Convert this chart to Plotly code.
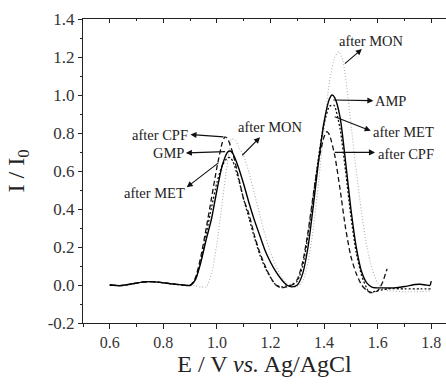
import plotly.graph_objects as go

# ---- data ----
gmp_x = [0.60, 0.64, 0.68, 0.72, 0.75, 0.78, 0.82, 0.86, 0.90, 0.92, 0.94, 0.96, 0.98, 1.00, 1.02, 1.04, 1.05,
         1.06, 1.08, 1.10, 1.12, 1.14, 1.16, 1.18, 1.20, 1.22, 1.24, 1.26, 1.28, 1.30, 1.32, 1.34, 1.36,
         1.38, 1.40, 1.42, 1.43, 1.44, 1.46, 1.48, 1.50, 1.52, 1.54, 1.56, 1.58, 1.62, 1.66, 1.70, 1.74,
         1.76, 1.78, 1.795, 1.80]
gmp_y = [0.000, -0.003, 0.005, 0.015, 0.018, 0.015, 0.008, 0.002, -0.002, 0.030, 0.120, 0.240, 0.350, 0.500,
         0.630, 0.700, 0.705, 0.690, 0.620, 0.530, 0.430, 0.340, 0.260, 0.180, 0.120, 0.070, 0.030, 0.000,
         -0.010, 0.000, 0.060, 0.200, 0.420, 0.660, 0.860, 0.980, 1.000, 0.985, 0.880, 0.650, 0.400, 0.200,
         0.070, 0.010, -0.012, -0.015, -0.015, -0.008, 0.003, 0.004, 0.000, -0.002, 0.020]

cpf_x = [0.60, 0.64, 0.68, 0.72, 0.75, 0.78, 0.82, 0.86, 0.90, 0.92, 0.94, 0.96, 0.98, 1.00, 1.02, 1.03,
         1.04, 1.06, 1.08, 1.10, 1.12, 1.14, 1.16, 1.18, 1.20, 1.22, 1.24, 1.26, 1.28, 1.30, 1.32, 1.34,
         1.36, 1.38, 1.40, 1.41, 1.42, 1.44, 1.46, 1.48, 1.50, 1.52, 1.54, 1.56, 1.58, 1.60, 1.61, 1.62, 1.635]
cpf_y = [0.000, -0.003, 0.005, 0.015, 0.018, 0.015, 0.008, 0.002, -0.002, 0.040, 0.150, 0.300, 0.460, 0.620,
         0.750, 0.780, 0.770, 0.690, 0.570, 0.450, 0.370, 0.260, 0.170, 0.100, 0.040, 0.000, -0.015, -0.010,
         0.000, 0.030, 0.120, 0.280, 0.480, 0.660, 0.780, 0.807, 0.790, 0.680, 0.500, 0.300, 0.150, 0.060,
         0.000, -0.030, -0.040, -0.030, -0.010, 0.020, 0.085]

met_x = [0.60, 0.64, 0.68, 0.72, 0.75, 0.78, 0.82, 0.86, 0.90, 0.92, 0.94, 0.96, 0.98, 1.00, 1.02, 1.04,
         1.05, 1.06, 1.08, 1.10, 1.12, 1.14, 1.16, 1.18, 1.20, 1.22, 1.24, 1.26, 1.28, 1.30, 1.32, 1.34,
         1.36, 1.38, 1.40, 1.42, 1.435, 1.44, 1.46, 1.48, 1.50, 1.52, 1.54, 1.56, 1.57, 1.60, 1.64, 1.70,
         1.76, 1.80]
met_y = [0.000, -0.003, 0.005, 0.015, 0.018, 0.015, 0.008, 0.002, -0.002, 0.030, 0.130, 0.270, 0.410, 0.540,
         0.630, 0.670, 0.670, 0.650, 0.560, 0.450, 0.350, 0.250, 0.160, 0.090, 0.040, 0.000, -0.010, -0.005,
         0.000, 0.020, 0.100, 0.260, 0.470, 0.680, 0.850, 0.940, 0.947, 0.940, 0.820, 0.600, 0.360, 0.170,
         0.050, -0.020, -0.040, -0.030, -0.020, -0.020, -0.020, -0.020]

mon_x = [0.60, 0.64, 0.68, 0.72, 0.75, 0.78, 0.82, 0.86, 0.90, 0.92, 0.94, 0.96, 0.98, 1.00, 1.02, 1.04,
         1.055, 1.07, 1.08, 1.10, 1.12, 1.14, 1.16, 1.18, 1.20, 1.22, 1.24, 1.26, 1.28, 1.30, 1.32, 1.34,
         1.36, 1.38, 1.40, 1.42, 1.44, 1.455, 1.47, 1.49, 1.50, 1.52, 1.54, 1.56, 1.58, 1.60, 1.62, 1.64,
         1.70, 1.76, 1.80]
mon_y = [0.000, -0.003, 0.005, 0.015, 0.018, 0.015, 0.008, 0.002, -0.002, -0.005, -0.010, -0.010, 0.060,
         0.220, 0.440, 0.650, 0.770, 0.760, 0.730, 0.680, 0.590, 0.480, 0.370, 0.260, 0.170, 0.100, 0.045,
         0.010, -0.010, -0.010, 0.020, 0.120, 0.300, 0.550, 0.820, 1.070, 1.200, 1.228, 1.180, 0.980, 0.850,
         0.600, 0.380, 0.200, 0.080, 0.010, -0.020, -0.030, -0.035, -0.035, -0.030]

x_ticks = [0.6, 0.8, 1.0, 1.2, 1.4, 1.6, 1.8]
x_tick_labels = ["0.6", "0.8", "1.0", "1.2", "1.4", "1.6", "1.8"]
y_ticks = [-0.2, 0.0, 0.2, 0.4, 0.6, 0.8, 1.0, 1.2, 1.4]
y_tick_labels = ["-0.2", "0.0", "0.2", "0.4", "0.6", "0.8", "1.0", "1.2", "1.4"]

# label text, text anchor (x, y, side), arrow head (x, y), arrow tail (x, y)
labels = ["after CPF", "GMP", "after MET", "after MON", "after MON", "AMP", "after MET", "after CPF"]
label_x = [0.896, 0.879, 0.883, 1.075, 1.452, 1.586, 1.578, 1.596]
label_y = [0.792, 0.695, 0.484, 0.832, 1.284, 0.970, 0.804, 0.688]
label_side = ["right", "right", "right", "left", "left", "left", "left", "left"]
head_x = [0.901, 0.884, 0.887, 1.161, 1.541, 1.584, 1.574, 1.590]
head_y = [0.792, 0.695, 0.514, 0.777, 1.242, 0.970, 0.812, 0.698]
tail_x = [1.030, 1.036, 1.011, 1.089, 1.472, 1.429, 1.434, 1.434]
tail_y = [0.779, 0.702, 0.649, 0.675, 1.158, 0.974, 0.889, 0.698]

FONT = "Liberation Serif, Times New Roman, serif"

fig = go.Figure()
fig.add_trace(go.Scatter(x=mon_x, y=mon_y, mode="lines", name="after MON",
                         line=dict(color="#b0b0b0", width=1.1, dash="1px,2px", shape="spline", smoothing=0.6)))
fig.add_trace(go.Scatter(x=met_x, y=met_y, mode="lines", name="after MET",
                         line=dict(color="#111111", width=1.3, dash="2px,2px", shape="spline", smoothing=0.6)))
fig.add_trace(go.Scatter(x=cpf_x, y=cpf_y, mode="lines", name="after CPF",
                         line=dict(color="#111111", width=1.3, dash="5px,3px", shape="spline", smoothing=0.6)))
fig.add_trace(go.Scatter(x=gmp_x, y=gmp_y, mode="lines", name="GMP/AMP", xaxis="x2",
                         line=dict(color="#000000", width=1.4, shape="spline", smoothing=0.6)))

for i in range(len(labels)):
    fig.add_annotation(x=head_x[i], y=head_y[i], ax=tail_x[i], ay=tail_y[i],
                       xref="x", yref="y", axref="x", ayref="y", text="",
                       showarrow=True, arrowhead=2, arrowsize=1.1, arrowwidth=1.1, arrowcolor="#111111",
                       standoff=0, startstandoff=0)
    fig.add_annotation(x=label_x[i], y=label_y[i], xref="x", yref="y", text=labels[i],
                       showarrow=False, xanchor=label_side[i], yanchor="middle", borderpad=0,
                       font=dict(family=FONT, size=14.5, color="#222222"))

xr = [0.5, 1.855]
common_x = dict(range=xr, tickvals=x_ticks, showgrid=False, zeroline=False, showline=True,
                linecolor="#222222", linewidth=1)
fig.update_layout(
    width=446, height=384,
    margin=dict(l=83, r=0, t=19, b=61),
    paper_bgcolor="white", plot_bgcolor="white",
    showlegend=False,
    font=dict(family=FONT, color="#222222"),
    xaxis=dict(**common_x, ticktext=x_tick_labels, ticks="outside", ticklen=5, tickwidth=1,
               tickcolor="#222222", tickfont=dict(family=FONT, size=16, color="#333333"),
               minor=dict(dtick=0.1, tick0=0.5, ticks="outside", ticklen=3, tickcolor="#222222"),
               title=dict(text="E / V <i>vs.</i> Ag/AgCl", font=dict(family=FONT, size=24, color="#222222"),
                          standoff=3)),
    xaxis2=dict(**common_x, overlaying="x", side="top", anchor="y", showticklabels=False,
                ticks="inside", ticklen=4, tickwidth=1, tickcolor="#222222",
                minor=dict(dtick=0.1, tick0=0.5, ticks="inside", ticklen=2, tickcolor="#222222")),
    yaxis=dict(range=[-0.2, 1.4], tickvals=y_ticks, ticktext=y_tick_labels, showgrid=False, zeroline=False,
               showline=True, linecolor="#222222", linewidth=1, ticks="outside", ticklen=4, tickwidth=1,
               tickcolor="#222222", tickfont=dict(family=FONT, size=17, color="#333333"),
               minor=dict(dtick=0.1, tick0=-0.2, ticks="outside", ticklen=2, tickcolor="#222222"),
               title=dict(text="I / I<sub>0</sub>", font=dict(family=FONT, size=24, color="#222222"),
                          standoff=16)),
)

fig.write_html("out.html", config={"displayModeBar": False},
               post_script="document.body.style.margin='0';")
